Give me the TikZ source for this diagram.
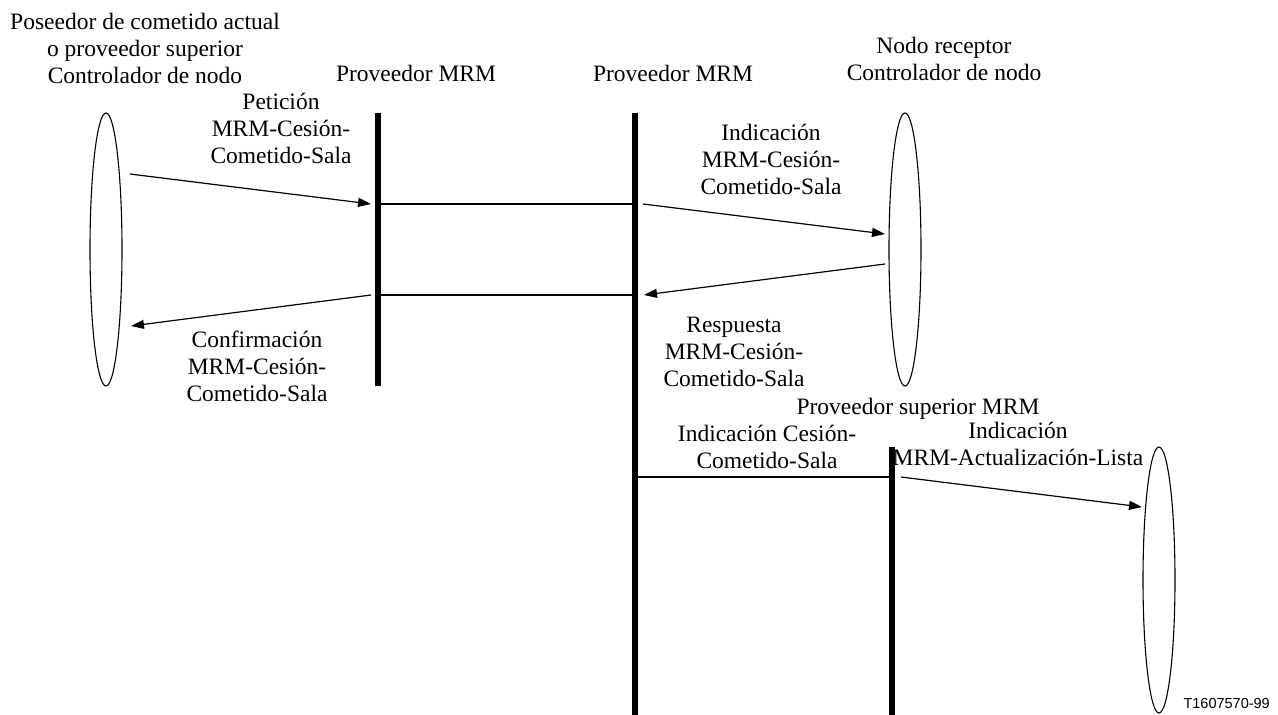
\documentclass[tikz,border=0pt]{standalone}
\usepackage{fontspec}
\setmainfont{Liberation Serif}
\newfontfamily\tagfont{Liberation Sans}
\usetikzlibrary{arrows.meta,shapes.geometric}
\begin{document}
\begin{tikzpicture}[x=1pt,y=-1pt,
  lbl/.style={anchor=north,inner sep=0pt,align=center,font=\fontsize{23.5}{27}\selectfont,execute at begin node=\strut},
  lane/.style={ellipse,draw,line width=1.1pt,minimum width=32pt,minimum height=273pt,inner sep=0pt},
  barline/.style={fill=black,draw=none,minimum width=6pt,inner sep=0pt},
  msg/.style={line width=1.2pt,-{Triangle[length=13pt,width=9pt]}},
  link/.style={line width=1.7pt}]
\useasboundingbox (0,0) rectangle (1278,715);

% lanes (ellipses)
\node[lane] (L1) at (106,249.5) {};
\node[lane] (L2) at (905,249.5) {};
\node[lane,minimum height=266pt] (L3) at (1159,580) {};

% provider bars
\node[barline,minimum height=273pt] (P1) at (378,249.5) {};
\node[barline,minimum height=602pt] (P2) at (635,414) {};
\node[barline,minimum height=268pt] (P3) at (892,581) {};

% coordinates for connector ends
\coordinate (a1s) at (130,174);   \coordinate (a1e) at (371,204);
\coordinate (h1a) at (378,204);   \coordinate (h1b) at (635,204);
\coordinate (a3s) at (643,204);   \coordinate (a3e) at (885,234);
\coordinate (a4s) at (885,264);   \coordinate (a4e) at (644,295);
\coordinate (h2a) at (378,295);   \coordinate (h2b) at (635,295);
\coordinate (a6s) at (371,295);   \coordinate (a6e) at (131,326);
\coordinate (h3a) at (635,477);   \coordinate (h3b) at (892,477);
\coordinate (a8s) at (901,477);   \coordinate (a8e) at (1142,507);

\draw[msg] (a1s) -- (a1e);
\draw[link] (h1a) -- (h1b);
\draw[msg] (a3s) -- (a3e);
\draw[msg] (a4s) -- (a4e);
\draw[link] (h2a) -- (h2b);
\draw[msg] (a6s) -- (a6e);
\draw[link] (h3a) -- (h3b);
\draw[msg] (a8s) -- (a8e);

% headers
\node[lbl] (t1) at (145,12.5) {Poseedor de cometido actual\\o proveedor superior\\Controlador de nodo};
\node[lbl] (t2) at (416,62) {Proveedor MRM};
\node[lbl] (t3) at (673,62) {Proveedor MRM};
\node[lbl] (t4) at (944,37) {Nodo receptor\\Controlador de nodo};

% message labels
\node[lbl] (m1) at (281,93) {Petición\\MRM-Cesión-\\Cometido-Sala};
\node[lbl] (m2) at (771,123.5) {Indicación\\MRM-Cesión-\\Cometido-Sala};
\node[lbl] (m3) at (257,331) {Confirmación\\MRM-Cesión-\\Cometido-Sala};
\node[lbl] (m4) at (734,316.5) {Respuesta\\MRM-Cesión-\\Cometido-Sala};
\node[lbl] (t5) at (918,395) {Proveedor superior MRM};
\node[lbl] (m5) at (767,425) {Indicación Cesión-\\Cometido-Sala};
\node[lbl] (m6) at (1018,422) {Indicación\\MRM-Actualización-Lista};

\node[anchor=base east,inner sep=0pt,font=\tagfont\fontsize{14.5}{16}\selectfont] (tag) at (1270,708) {T1607570-99};
\end{tikzpicture}
\end{document}
